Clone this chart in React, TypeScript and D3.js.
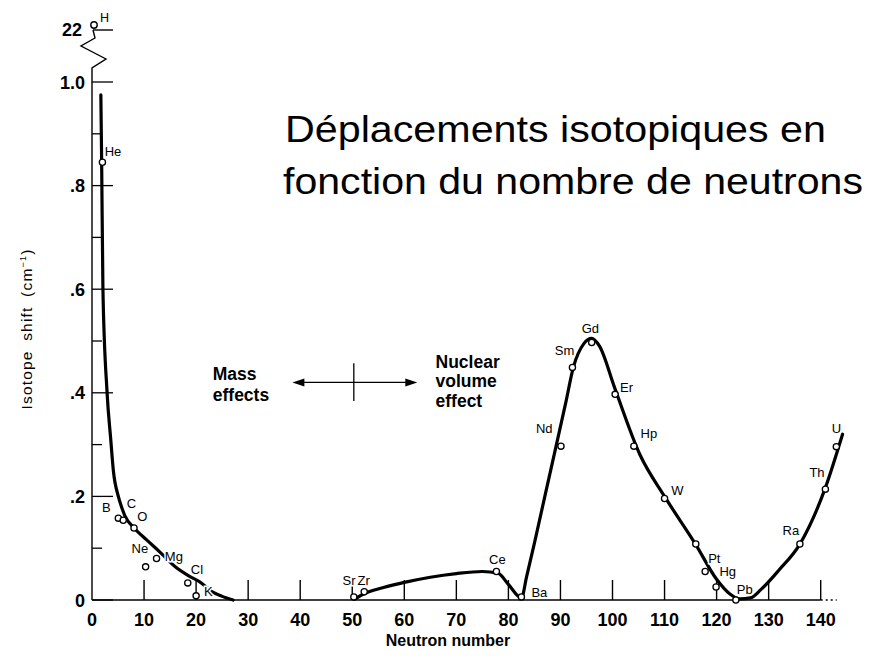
import React from "react";
import * as d3 from "d3";

// ---------- DATA ----------
const elements = ["He", "B", "C", "O", "Ne", "Mg", "Cl", "K", "Sr", "Zr", "Ce", "Ba", "Nd", "Sm", "Gd", "Er", "Hp", "W", "", "Pt", "Hg", "Pb", "Ra", "Th", "U"];
const neutronNumbers = [2, 5.06, 6, 8.07, 10.3, 12.4, 18.4, 20, 50.3, 52.3, 77.7, 82.5, 90.1, 92.3, 96, 100.5, 104.1, 110, 116, 117.8, 119.9, 123.7, 136, 140.9, 143];
const isotopeShifts = [0.845, 0.158, 0.154, 0.139, 0.064, 0.08, 0.033, 0.008, 0.006, 0.016, 0.055, 0.006, 0.297, 0.449, 0.497, 0.397, 0.297, 0.196, 0.108, 0.055, 0.025, 0.0, 0.108, 0.214, 0.296];

// light-element (mass effect) curve
const lightCurveN = [1.7, 1.85, 2.1, 2.9, 3.6, 4.1, 5.06, 5.6, 6.3, 8.1, 10.5, 13, 16, 18.5, 20.7, 23.2, 25, 27.1];
const lightCurveShift = [0.975, 0.85, 0.6, 0.4, 0.31, 0.25, 0.2, 0.182, 0.163, 0.139, 0.116, 0.093, 0.064, 0.047, 0.035, 0.015, 0.007, 0.0];

// heavy-element (nuclear volume effect) curve
const heavyCurveN = [50.5, 52.3, 56, 60, 65, 70, 75, 78, 80, 82.5, 83.5, 85, 87, 89, 91, 92.5, 94.5, 96, 97.5, 100.4, 105.3, 110, 116, 120, 122.5, 124.5, 126.5, 128.5, 132, 136, 140.8, 144.2];
const heavyCurveShift = [0.002, 0.012, 0.024, 0.034, 0.044, 0.051, 0.055, 0.052, 0.03, 0.004, 0.045, 0.11, 0.2, 0.29, 0.38, 0.45, 0.495, 0.505, 0.49, 0.41, 0.28, 0.2, 0.107, 0.04, 0.012, 0.002, 0.004, 0.02, 0.058, 0.108, 0.214, 0.32];

const xTicks = [0, 10, 20, 30, 40, 50, 60, 70, 80, 90, 100, 110, 120, 130, 140];
const yMajorTicks = [0, 0.2, 0.4, 0.6, 0.8, 1.0];
const yTickLabels = ["0", ".2", ".4", ".6", ".8", "1.0"];
const yMinorTicks = [0.1, 0.3, 0.5, 0.7, 0.9];
const hydrogenShiftLabel = "22";

// label offsets (px) relative to each point
const labelOffsets: Record<string, [number, number]> = {
  He: [2.3, -6.3], B: [-16.3, -6.3], C: [3.4, -12], O: [3.3, -7], Ne: [-14, -14], Mg: [8.3, 2.7],
  Cl: [3, -9.4], K: [8, 0], Sr: [-11.3, -11.7], Zr: [-6.7, -6.7], Ce: [-7.4, -7.4], Ba: [10, 0],
  Nd: [-25, -12.7], Sm: [-17.7, -12.3], Gd: [-10, -10], Er: [5, -2.6], Hp: [6.7, -8.3], W: [6.7, -3.3],
  Pt: [3, -9], Hg: [3.3, -10.6], Pb: [1, -6], Ra: [-17.3, -9.3], Th: [-16, -11.7], U: [-4.6, -14],
};

const FONT = "'Liberation Sans', Arial, Helvetica, sans-serif";

export default function App() {
  const x = d3.scaleLinear().domain([0, 140]).range([92, 820.7]);
  const y = d3.scaleLinear().domain([0, 1]).range([600, 82]);

  const line = d3
    .line<[number, number]>()
    .x((d) => x(d[0]))
    .y((d) => y(d[1]))
    .curve(d3.curveMonotoneX);

  const lightPts: [number, number][] = lightCurveN.map((n, i) => [n, lightCurveShift[i]]);
  const heavyPts: [number, number][] = heavyCurveN.map((n, i) => [n, heavyCurveShift[i]]);

  const x0 = x(0);
  const yTop = y(1.0);
  const yH = 30;
  const zig = [
    [x0, yTop],
    [x0, yTop - 14],
    [x0 + 14, yTop - 23],
    [x0 - 11, yTop - 36],
    [x0 + 3, yTop - 44],
    [x0 + 1, yH],
  ];

  const arrowY = y(0.42);
  const aL = x(38.5);
  const aR = x(62.5);

  return (
    <svg
      width={886}
      height={663}
      style={{ position: "absolute", left: 0, top: 0, background: "#fff" }}
      fontFamily={FONT}
    >
      <rect x={0} y={0} width={886} height={663} fill="#fff" />

      {/* Title */}
      <text x={285} y={142} fontSize={37} textLength={541} lengthAdjust="spacingAndGlyphs" fill="#000">
        Déplacements isotopiques en
      </text>
      <text x={283} y={194} fontSize={37} textLength={580} lengthAdjust="spacingAndGlyphs" fill="#000">
        fonction du nombre de neutrons
      </text>

      {/* X axis */}
      <line x1={x0} x2={x(140)} y1={y(0)} y2={y(0)} stroke="#000" strokeWidth={1.6} />
      <line x1={x(140)} x2={x(140) + 16} y1={y(0)} y2={y(0)} stroke="#000" strokeWidth={1.4} strokeDasharray="2,3" />
      {xTicks.filter((t) => t > 0).map((t) => (
        <line key={"xt" + t} x1={x(t)} x2={x(t)} y1={y(0)} y2={y(0) - 20} stroke="#000" strokeWidth={1.4} />
      ))}
      {xTicks.map((t) => (
        <text key={"xl" + t} x={x(t)} y={626} fontSize={18} fontWeight="bold" textAnchor="middle" fill="#000">
          {t}
        </text>
      ))}
      <text x={448} y={646} fontSize={16} fontWeight="bold" textAnchor="middle" fill="#000">
        Neutron number
      </text>

      {/* Y axis */}
      <line x1={x0} x2={x0} y1={y(0)} y2={yTop} stroke="#000" strokeWidth={1.4} />
      <polyline points={zig.map((p) => p.join(",")).join(" ")} fill="none" stroke="#000" strokeWidth={1.4} />
      <line x1={x0 + 1} x2={x0 + 21} y1={yH} y2={yH} stroke="#000" strokeWidth={1.4} />
      {yMajorTicks.map((t) => (
        <line key={"ymt" + t} x1={x0} x2={x0 + 21} y1={y(t)} y2={y(t)} stroke="#000" strokeWidth={1.3} />
      ))}
      {yMinorTicks.map((t) => (
        <line key={"ymn" + t} x1={x0} x2={x0 + 10} y1={y(t)} y2={y(t)} stroke="#000" strokeWidth={1.3} />
      ))}
      {yMajorTicks.map((t, i) => (
        <text key={"yl" + t} x={85} y={y(t) + 6.5} fontSize={18} fontWeight="bold" textAnchor="end" fill="#000">
          {yTickLabels[i]}
        </text>
      ))}
      <text x={82} y={36} fontSize={18} fontWeight="bold" textAnchor="end" fill="#000">
        {hydrogenShiftLabel}
      </text>
      <circle cx={x0 + 2} cy={yH - 5} r={3.2} fill="#fff" stroke="#000" strokeWidth={1.4} />
      <text x={x0 + 8} y={22} fontSize={12.5} fill="#000">H</text>

      <text
        transform={`translate(32,329) rotate(-90)`}
        fontSize={15.5}
        textAnchor="middle"
        fill="#000"
        letterSpacing={1.2}
        wordSpacing={4}
      >
        Isotope shift (cm
        <tspan fontSize={9} dy={-6}>−1</tspan>
        <tspan dy={6}>)</tspan>
      </text>

      {/* Curves */}
      <path d={line(lightPts) || ""} fill="none" stroke="#000" strokeWidth={3.2} strokeLinejoin="round" strokeLinecap="round" />
      <path d={line(heavyPts) || ""} fill="none" stroke="#000" strokeWidth={3.2} strokeLinejoin="round" strokeLinecap="round" />

      {/* Annotation */}
      <line x1={aL + 6} x2={aR - 6} y1={arrowY} y2={arrowY} stroke="#000" strokeWidth={1.3} />
      <path d={`M${aL},${arrowY} L${aL + 12},${arrowY - 4} L${aL + 12},${arrowY + 4} Z`} fill="#000" />
      <path d={`M${aR},${arrowY} L${aR - 12},${arrowY - 4} L${aR - 12},${arrowY + 4} Z`} fill="#000" />
      <line x1={x(50.3)} x2={x(50.3)} y1={y(0.457)} y2={y(0.384)} stroke="#000" strokeWidth={1.3} />
      <text fontSize={17.5} fontWeight="bold" fill="#000">
        <tspan x={x(23.2)} y={380}>Mass</tspan>
        <tspan x={x(23.2)} y={401}>effects</tspan>
      </text>
      <text fontSize={17.5} fontWeight="bold" fill="#000">
        <tspan x={x(66)} y={368}>Nuclear</tspan>
        <tspan x={x(66)} y={387}>volume</tspan>
        <tspan x={x(66)} y={407}>effect</tspan>
      </text>

      {/* Points */}
      {neutronNumbers.map((n, i) => (
        <circle key={"p" + i} cx={x(n)} cy={y(isotopeShifts[i])} r={3.1} fill="#fff" stroke="#000" strokeWidth={1.3} />
      ))}
      {elements.map((el, i) => {
        if (!el) return null;
        const off = labelOffsets[el] || [4, -4];
        return (
          <text
            key={"l" + i}
            x={x(neutronNumbers[i]) + off[0]}
            y={y(isotopeShifts[i]) + off[1]}
            fontSize={13}
            fill="#000"
            stroke="#fff"
            strokeWidth={3}
            paintOrder="stroke"
          >
            {el}
          </text>
        );
      })}
    </svg>
  );
}
